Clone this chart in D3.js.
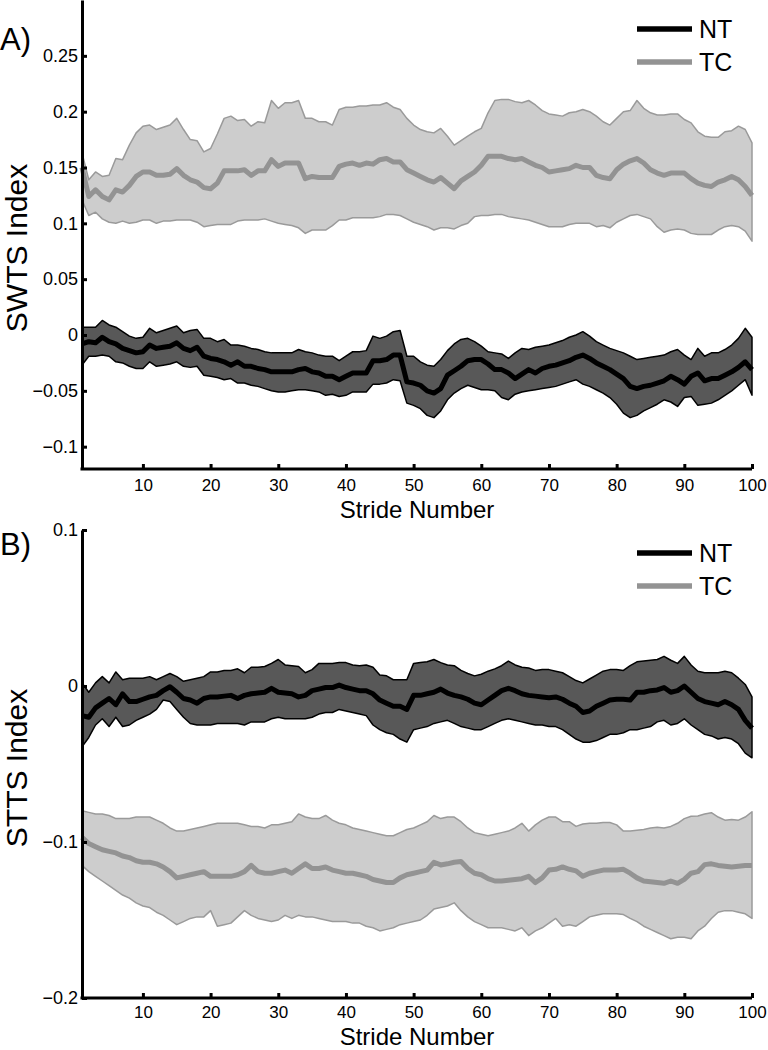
<!DOCTYPE html>
<html>
<head>
<meta charset="utf-8">
<script src="https://cdn.jsdelivr.net/npm/d3@7"></script>
<style>
  html, body { margin: 0; padding: 0; background: #fff; }
  svg { display: block; font-family: "Liberation Sans", Arial, Helvetica, sans-serif; }
</style>
</head>
<body>
<svg id="chart" width="768" height="1050"></svg>
<script>
// ---------- DATA ----------
const strides = d3.range(1, 101);
const xTickValues = [10, 20, 30, 40, 50, 60, 70, 80, 90, 100];
const xTickLabels = ["10", "20", "30", "40", "50", "60", "70", "80", "90", "100"];
const seriesNames = ["NT", "TC"];

const swtsTickValues = [-0.1, -0.05, 0, 0.05, 0.1, 0.15, 0.2, 0.25];
const swtsTickLabels = ["\u22120.1", "\u22120.05", "0", "0.05", "0.1", "0.15", "0.2", "0.25"];
const sttsTickValues = [-0.2, -0.1, 0, 0.1];
const sttsTickLabels = ["\u22120.2", "\u22120.1", "0", "0.1"];

// Panel A: SWTS index
const swtsTCMean = [0.150,0.124,0.130,0.124,0.121,0.130,0.128,0.134,0.142,0.146,0.146,0.143,0.143,0.144,0.149,0.143,0.139,0.137,0.132,0.131,0.136,0.147,0.147,0.147,0.148,0.143,0.147,0.147,0.157,0.151,0.154,0.154,0.154,0.140,0.142,0.141,0.141,0.141,0.151,0.153,0.154,0.152,0.154,0.153,0.157,0.158,0.155,0.155,0.148,0.145,
  0.142,0.139,0.137,0.141,0.136,0.131,0.138,0.142,0.146,0.152,0.160,0.160,0.160,0.158,0.157,0.158,0.155,0.152,0.150,0.146,0.147,0.148,0.149,0.152,0.150,0.150,0.143,0.141,0.140,0.148,0.153,0.156,0.158,0.154,0.148,0.145,0.143,0.145,0.145,0.145,0.140,0.136,0.134,0.133,0.137,0.139,0.142,0.139,0.133,0.125];
const swtsTCUpper = [0.163,0.139,0.146,0.142,0.143,0.158,0.157,0.170,0.181,0.187,0.188,0.184,0.186,0.188,0.194,0.184,0.175,0.174,0.164,0.167,0.180,0.194,0.196,0.192,0.193,0.187,0.191,0.190,0.210,0.203,0.208,0.208,0.210,0.194,0.194,0.191,0.191,0.188,0.202,0.204,0.204,0.205,0.205,0.206,0.206,0.208,0.204,0.202,0.194,0.188,
  0.184,0.182,0.181,0.185,0.178,0.170,0.174,0.178,0.182,0.185,0.199,0.210,0.211,0.211,0.209,0.208,0.210,0.206,0.201,0.198,0.197,0.196,0.199,0.200,0.202,0.200,0.196,0.191,0.188,0.194,0.200,0.201,0.210,0.203,0.199,0.197,0.197,0.198,0.198,0.193,0.190,0.182,0.178,0.177,0.177,0.182,0.183,0.187,0.184,0.172];
const swtsTCLower = [0.121,0.107,0.110,0.104,0.101,0.100,0.102,0.100,0.101,0.103,0.103,0.100,0.102,0.102,0.103,0.103,0.103,0.101,0.097,0.098,0.099,0.099,0.099,0.102,0.103,0.103,0.103,0.104,0.102,0.100,0.099,0.098,0.096,0.091,0.094,0.094,0.094,0.098,0.103,0.103,0.105,0.105,0.105,0.105,0.106,0.108,0.108,0.107,0.104,0.101,
  0.099,0.097,0.094,0.096,0.096,0.095,0.098,0.100,0.106,0.107,0.107,0.108,0.108,0.106,0.105,0.104,0.103,0.101,0.099,0.097,0.097,0.097,0.099,0.100,0.100,0.100,0.097,0.098,0.096,0.101,0.104,0.107,0.108,0.106,0.104,0.097,0.092,0.094,0.095,0.094,0.091,0.090,0.090,0.090,0.094,0.097,0.098,0.097,0.093,0.084];
const swtsNTMean = [-0.008,-0.006,-0.007,-0.002,-0.006,-0.008,-0.012,-0.014,-0.016,-0.015,-0.009,-0.012,-0.011,-0.010,-0.007,-0.012,-0.014,-0.011,-0.019,-0.021,-0.022,-0.024,-0.027,-0.024,-0.028,-0.028,-0.030,-0.031,-0.033,-0.033,-0.033,-0.033,-0.031,-0.030,-0.033,-0.034,-0.037,-0.037,-0.040,-0.037,-0.034,-0.034,-0.034,-0.023,-0.023,-0.022,-0.018,-0.018,-0.042,-0.043,
  -0.045,-0.050,-0.052,-0.048,-0.036,-0.032,-0.028,-0.023,-0.022,-0.022,-0.026,-0.031,-0.031,-0.034,-0.039,-0.035,-0.031,-0.034,-0.030,-0.028,-0.027,-0.025,-0.023,-0.020,-0.018,-0.021,-0.025,-0.028,-0.031,-0.035,-0.039,-0.046,-0.048,-0.046,-0.045,-0.043,-0.041,-0.037,-0.040,-0.044,-0.037,-0.034,-0.041,-0.039,-0.039,-0.036,-0.033,-0.029,-0.024,-0.031];
const swtsNTUpper = [0.007,0.007,0.007,0.013,0.009,0.007,0.003,-0.001,-0.003,-0.002,0.006,0.002,0.004,0.006,0.008,0.002,0.004,0.005,-0.003,-0.003,-0.006,-0.004,-0.009,-0.009,-0.010,-0.012,-0.013,-0.015,-0.016,-0.016,-0.016,-0.016,-0.013,-0.015,-0.016,-0.018,-0.019,-0.019,-0.023,-0.019,-0.015,-0.015,-0.014,-0.001,-0.003,-0.001,0.003,0.004,-0.019,-0.019,
  -0.024,-0.027,-0.028,-0.022,-0.014,-0.008,-0.004,-0.003,-0.006,-0.010,-0.015,-0.016,-0.017,-0.021,-0.016,-0.012,-0.013,-0.011,-0.010,-0.009,-0.007,-0.005,-0.002,0.000,0.003,-0.001,-0.006,-0.009,-0.012,-0.014,-0.016,-0.019,-0.022,-0.021,-0.020,-0.019,-0.018,-0.015,-0.013,-0.018,-0.022,-0.012,-0.019,-0.016,-0.016,-0.013,-0.009,-0.003,0.006,-0.002];
const swtsNTLower = [-0.027,-0.019,-0.019,-0.018,-0.019,-0.024,-0.025,-0.028,-0.030,-0.030,-0.024,-0.028,-0.027,-0.026,-0.024,-0.028,-0.029,-0.028,-0.036,-0.037,-0.038,-0.040,-0.039,-0.043,-0.043,-0.045,-0.046,-0.048,-0.050,-0.051,-0.051,-0.050,-0.049,-0.049,-0.050,-0.051,-0.054,-0.053,-0.055,-0.054,-0.051,-0.051,-0.051,-0.044,-0.044,-0.043,-0.040,-0.041,-0.061,-0.063,
  -0.066,-0.072,-0.074,-0.068,-0.058,-0.052,-0.048,-0.045,-0.047,-0.049,-0.049,-0.050,-0.056,-0.058,-0.053,-0.051,-0.050,-0.049,-0.048,-0.047,-0.046,-0.044,-0.042,-0.040,-0.044,-0.046,-0.049,-0.052,-0.056,-0.062,-0.070,-0.074,-0.072,-0.068,-0.065,-0.062,-0.058,-0.060,-0.064,-0.056,-0.055,-0.063,-0.062,-0.061,-0.058,-0.054,-0.050,-0.045,-0.040,-0.054];

// Panel B: STTS index
const sttsNTMean = [-0.019,-0.020,-0.014,-0.011,-0.008,-0.012,-0.005,-0.010,-0.010,-0.0085,-0.007,-0.006,-0.003,-0.0005,-0.004,-0.008,-0.009,-0.011,-0.008,-0.007,-0.007,-0.0065,-0.006,-0.008,-0.006,-0.005,-0.0045,-0.004,-0.0015,-0.004,-0.0045,-0.005,-0.007,-0.006,-0.003,-0.002,-0.001,-0.001,0.0006,-0.001,-0.002,-0.003,-0.003,-0.005,-0.009,-0.011,-0.013,-0.013,-0.015,-0.006,
  -0.006,-0.005,-0.004,-0.002,-0.0045,-0.006,-0.007,-0.0085,-0.011,-0.012,-0.009,-0.006,-0.003,-0.0015,-0.003,-0.005,-0.006,-0.0065,-0.007,-0.0075,-0.007,-0.0085,-0.011,-0.013,-0.017,-0.016,-0.013,-0.011,-0.009,-0.0085,-0.0085,-0.009,-0.004,-0.004,-0.003,-0.0025,-0.001,-0.004,-0.003,0.000,-0.004,-0.008,-0.010,-0.011,-0.012,-0.010,-0.012,-0.015,-0.022,-0.027];
const sttsNTUpper = [0.002,-0.004,0.002,0.006,0.002,0.009,0.004,0.005,0.005,0.005,0.006,0.004,0.006,0.008,0.006,0.003,0.004,0.005,0.006,0.009,0.009,0.010,0.010,0.011,0.0085,0.012,0.012,0.0125,0.0145,0.017,0.0135,0.013,0.0125,0.0085,0.0105,0.0145,0.0145,0.0145,0.015,0.015,0.0135,0.013,0.0135,0.012,0.007,0.0065,0.004,0.004,0.004,0.0145,
  0.015,0.0155,0.017,0.015,0.0135,0.013,0.010,0.008,0.0065,0.0075,0.0095,0.011,0.013,0.016,0.0135,0.012,0.0115,0.010,0.0105,0.0105,0.0095,0.0085,0.006,0.0035,0.002,0.0045,0.007,0.0095,0.0105,0.0105,0.010,0.013,0.0155,0.016,0.0165,0.017,0.019,0.0165,0.0145,0.019,0.0135,0.0095,0.0085,0.0085,0.0085,0.0095,0.0085,0.005,0.001,-0.007];
const sttsNTLower = [-0.039,-0.033,-0.025,-0.021,-0.026,-0.020,-0.026,-0.025,-0.022,-0.020,-0.018,-0.015,-0.009,-0.010,-0.015,-0.020,-0.024,-0.025,-0.025,-0.025,-0.024,-0.024,-0.024,-0.024,-0.025,-0.023,-0.023,-0.023,-0.021,-0.020,-0.021,-0.021,-0.021,-0.021,-0.020,-0.018,-0.017,-0.017,-0.015,-0.016,-0.017,-0.018,-0.019,-0.025,-0.028,-0.030,-0.031,-0.034,-0.036,-0.028,
  -0.027,-0.026,-0.024,-0.023,-0.022,-0.024,-0.026,-0.027,-0.028,-0.028,-0.026,-0.024,-0.022,-0.021,-0.022,-0.023,-0.024,-0.025,-0.025,-0.026,-0.026,-0.028,-0.031,-0.034,-0.036,-0.036,-0.035,-0.033,-0.031,-0.031,-0.030,-0.028,-0.028,-0.027,-0.026,-0.023,-0.022,-0.025,-0.024,-0.021,-0.025,-0.028,-0.031,-0.032,-0.034,-0.033,-0.034,-0.037,-0.043,-0.046];
const sttsTCMean = [-0.097,-0.101,-0.103,-0.105,-0.106,-0.107,-0.109,-0.110,-0.112,-0.113,-0.113,-0.114,-0.116,-0.119,-0.123,-0.122,-0.121,-0.120,-0.119,-0.122,-0.122,-0.122,-0.122,-0.121,-0.119,-0.115,-0.119,-0.120,-0.120,-0.119,-0.118,-0.120,-0.117,-0.114,-0.117,-0.117,-0.116,-0.118,-0.119,-0.120,-0.120,-0.121,-0.122,-0.124,-0.125,-0.126,-0.126,-0.123,-0.121,-0.120,
  -0.119,-0.118,-0.113,-0.1147,-0.114,-0.113,-0.1125,-0.117,-0.120,-0.121,-0.1235,-0.125,-0.125,-0.1245,-0.124,-0.1235,-0.122,-0.126,-0.123,-0.118,-0.1175,-0.116,-0.1175,-0.1185,-0.122,-0.120,-0.119,-0.118,-0.118,-0.118,-0.1175,-0.120,-0.123,-0.125,-0.1255,-0.126,-0.1265,-0.125,-0.1265,-0.124,-0.120,-0.119,-0.1145,-0.114,-0.115,-0.1155,-0.116,-0.1155,-0.115,-0.115];
const sttsTCUpper = [-0.080,-0.081,-0.082,-0.082,-0.083,-0.085,-0.085,-0.085,-0.084,-0.084,-0.084,-0.086,-0.088,-0.091,-0.093,-0.093,-0.092,-0.091,-0.090,-0.089,-0.088,-0.088,-0.088,-0.088,-0.089,-0.090,-0.090,-0.091,-0.089,-0.089,-0.088,-0.087,-0.082,-0.084,-0.085,-0.085,-0.083,-0.086,-0.088,-0.089,-0.091,-0.092,-0.093,-0.094,-0.095,-0.096,-0.096,-0.094,-0.092,-0.091,
  -0.089,-0.087,-0.083,-0.085,-0.084,-0.084,-0.087,-0.091,-0.094,-0.095,-0.096,-0.095,-0.094,-0.093,-0.091,-0.088,-0.093,-0.089,-0.086,-0.084,-0.084,-0.087,-0.087,-0.090,-0.0885,-0.088,-0.088,-0.0875,-0.0875,-0.089,-0.093,-0.093,-0.0925,-0.092,-0.091,-0.0905,-0.091,-0.090,-0.088,-0.085,-0.0835,-0.0833,-0.082,-0.0812,-0.084,-0.086,-0.0855,-0.086,-0.084,-0.0806];
const sttsTCLower = [-0.115,-0.119,-0.122,-0.125,-0.128,-0.131,-0.134,-0.136,-0.139,-0.141,-0.142,-0.145,-0.147,-0.150,-0.153,-0.151,-0.149,-0.148,-0.148,-0.144,-0.154,-0.153,-0.152,-0.148,-0.144,-0.147,-0.149,-0.150,-0.151,-0.150,-0.147,-0.149,-0.147,-0.148,-0.148,-0.149,-0.150,-0.151,-0.151,-0.151,-0.152,-0.152,-0.154,-0.155,-0.157,-0.156,-0.155,-0.153,-0.152,-0.151,
  -0.150,-0.147,-0.143,-0.142,-0.141,-0.139,-0.144,-0.148,-0.151,-0.153,-0.155,-0.155,-0.155,-0.156,-0.157,-0.155,-0.160,-0.157,-0.155,-0.152,-0.149,-0.154,-0.153,-0.154,-0.151,-0.148,-0.147,-0.146,-0.146,-0.146,-0.1465,-0.149,-0.151,-0.154,-0.156,-0.158,-0.160,-0.162,-0.161,-0.161,-0.162,-0.157,-0.154,-0.149,-0.145,-0.144,-0.144,-0.145,-0.146,-0.149];

// ---------- STYLE ----------
const FONT = '"Liberation Sans", Arial, Helvetica, sans-serif';
const style = {
  TC: { fill: "#cdcdcd", edge: "#9a9a9a", line: "#939393" },
  NT: { fill: "#585858", edge: "#000000", line: "#000000" }
};

const svg = d3.select("#chart");
const x = d3.scaleLinear().domain([1, 100]).range([82, 752]);

function drawPanel(cfg) {
  const y = d3.scaleLinear().domain(cfg.yDomain).range(cfg.yRange);
  const g = svg.append("g");

  const area = d3.area()
    .x((d, i) => x(strides[i]))
    .y0(d => y(d.lo))
    .y1(d => y(d.hi));
  const line = d3.line()
    .x((d, i) => x(strides[i]))
    .y(d => y(d));

  cfg.groups.forEach(grp => {
    const s = style[grp.name];
    const band = grp.upper.map((u, i) => ({ hi: u, lo: grp.lower[i] }));
    g.append("path").datum(band)
      .attr("d", area)
      .attr("fill", s.fill)
      .attr("stroke", s.edge)
      .attr("stroke-width", 1.5)
      .attr("stroke-linejoin", "round");
    g.append("path").datum(grp.mean)
      .attr("d", line)
      .attr("fill", "none")
      .attr("stroke", s.line)
      .attr("stroke-width", 5)
      .attr("stroke-linejoin", "round");
  });

  // Y axis
  const yAxis = d3.axisLeft(y)
    .tickValues(cfg.yTicks)
    .tickFormat((d, i) => cfg.yLabels[i])
    .tickSizeInner(-5)
    .tickSizeOuter(0)
    .tickPadding(4);
  const ya = g.append("g").attr("transform", `translate(${x.range()[0]},0)`).call(yAxis);
  ya.select(".domain").attr("stroke", "#000").attr("stroke-width", 3);
  ya.selectAll(".tick line").attr("stroke", "#000").attr("stroke-width", 3);
  ya.selectAll(".tick text").attr("fill", "#000").style("font-family", FONT).style("font-size", "18px");

  // X axis
  const xAxis = d3.axisBottom(x)
    .tickValues(xTickValues)
    .tickFormat((d, i) => xTickLabels[i])
    .tickSizeInner(-5)
    .tickSizeOuter(0)
    .tickPadding(cfg.xTickPad);
  const xa = g.append("g").attr("transform", `translate(0,${cfg.yRange[0]})`).call(xAxis);
  xa.select(".domain").attr("stroke", "#000").attr("stroke-width", 3).attr("d", `M${x.range()[0] - 1.5},0H${x.range()[1]}`);
  xa.selectAll(".tick line").attr("stroke", "#000").attr("stroke-width", 3);
  xa.selectAll(".tick text").attr("fill", "#000").style("font-family", FONT).style("font-size", "17px");

  // X title
  g.append("text")
    .attr("x", 417).attr("y", cfg.xTitleY)
    .attr("text-anchor", "middle")
    .style("font-family", FONT).style("font-size", "24px")
    .text("Stride Number");

  // Y title
  g.append("text")
    .attr("transform", `translate(27,${cfg.yTitleY}) rotate(-90)`)
    .attr("text-anchor", "middle")
    .style("font-family", FONT).style("font-size", "30px")
    .text(cfg.yTitle);

  // Panel letter
  g.append("text")
    .attr("x", 0).attr("y", cfg.letterY)
    .style("font-family", FONT).style("font-size", "31px")
    .text(cfg.letter);

  // Legend
  seriesNames.forEach((name, i) => {
    const ly = cfg.legendY + i * 33;
    g.append("line")
      .attr("x1", 637).attr("x2", 692)
      .attr("y1", ly).attr("y2", ly)
      .attr("stroke", style[name].line)
      .attr("stroke-width", 5.5);
    g.append("text")
      .attr("x", 699).attr("y", ly + 9)
      .style("font-family", FONT).style("font-size", "25px")
      .text(name);
  });
}

drawPanel({
  yDomain: [-0.12, 0.30], yRange: [469, 0],
  yTicks: swtsTickValues, yLabels: swtsTickLabels,
  yTitle: "SWTS Index", yTitleY: 248, xTitleY: 518, xTickPad: 10,
  letter: "A)", letterY: 50, legendY: 29,
  groups: [
    { name: "TC", mean: swtsTCMean, upper: swtsTCUpper, lower: swtsTCLower },
    { name: "NT", mean: swtsNTMean, upper: swtsNTUpper, lower: swtsNTLower }
  ]
});

drawPanel({
  yDomain: [-0.2, 0.1], yRange: [998, 530],
  yTicks: sttsTickValues, yLabels: sttsTickLabels,
  yTitle: "STTS Index", yTitleY: 768, xTitleY: 1045, xTickPad: 8,
  letter: "B)", letterY: 555, legendY: 553,
  groups: [
    { name: "TC", mean: sttsTCMean, upper: sttsTCUpper, lower: sttsTCLower },
    { name: "NT", mean: sttsNTMean, upper: sttsNTUpper, lower: sttsNTLower }
  ]
});
</script>
</body>
</html>
